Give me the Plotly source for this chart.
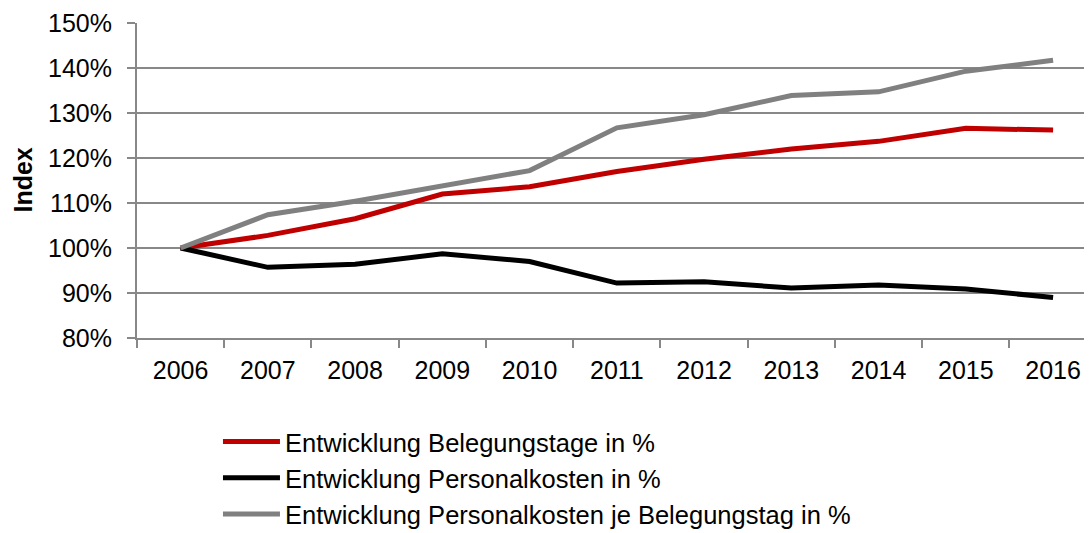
import plotly.graph_objects as go

years = ["2006", "2007", "2008", "2009", "2010", "2011", "2012", "2013", "2014", "2015", "2016"]
belegungstage = [100.0, 102.8, 106.5, 112.0, 113.6, 117.0, 119.7, 122.0, 123.7, 126.6, 126.2]
personalkosten = [100.0, 95.7, 96.4, 98.7, 97.0, 92.2, 92.5, 91.1, 91.8, 90.9, 89.0]
je_belegungstag = [100.0, 107.4, 110.4, 113.8, 117.2, 126.7, 129.6, 133.9, 134.7, 139.3, 141.7]

names = [
    "Entwicklung Belegungstage in %",
    "Entwicklung Personalkosten in %",
    "Entwicklung Personalkosten je Belegungstag in %",
]
colors = ["#C00000", "#000000", "#808080"]
series = [belegungstage, personalkosten, je_belegungstag]

FONT = "Liberation Sans, Arial, sans-serif"

fig = go.Figure()
for name, color, vals in zip(names, colors, series):
    fig.add_trace(go.Scatter(
        x=years, y=vals, name=name, mode="lines",
        line=dict(color=color, width=5),
    ))

fig.update_layout(
    width=1084, height=525,
    margin=dict(l=129, r=0, t=15, b=195, autoexpand=False),
    plot_bgcolor="white", paper_bgcolor="white",
    font=dict(family=FONT, size=25, color="#000000"),
    showlegend=True,
    legend=dict(
        xref="container", yref="container",
        x=0.1937, y=0.218, xanchor="left", yanchor="top",
        font=dict(family=FONT, size=25.5, color="#000000"),
        itemwidth=57, tracegroupgap=0,
        bgcolor="rgba(0,0,0,0)",
    ),
    annotations=[dict(
        text="<b>Index</b>", xref="paper", yref="paper",
        x=-0.1204, y=0.5, xanchor="center", yanchor="middle",
        textangle=-90, showarrow=False, font=dict(size=25, family=FONT),
    )],
)
fig.update_xaxes(
    type="category", range=[-0.5, 10.446],
    showline=True, linecolor="#888888", linewidth=2,
    ticks="outside", tickson="boundaries", ticklen=8, tickcolor="#888888", tickwidth=2,
    showgrid=False, tickfont=dict(size=25), ticklabelstandoff=9, tickangle=0,
)
fig.update_yaxes(
    range=[80, 150], dtick=10, ticksuffix="%",
    showline=True, linecolor="#888888", linewidth=2,
    ticks="outside", ticklen=8, tickcolor="#888888", tickwidth=2,
    showgrid=True, gridcolor="#888888", gridwidth=2,
    zeroline=False, tickfont=dict(size=25), ticklabelstandoff=10,
)

fig.write_html("out.html")
